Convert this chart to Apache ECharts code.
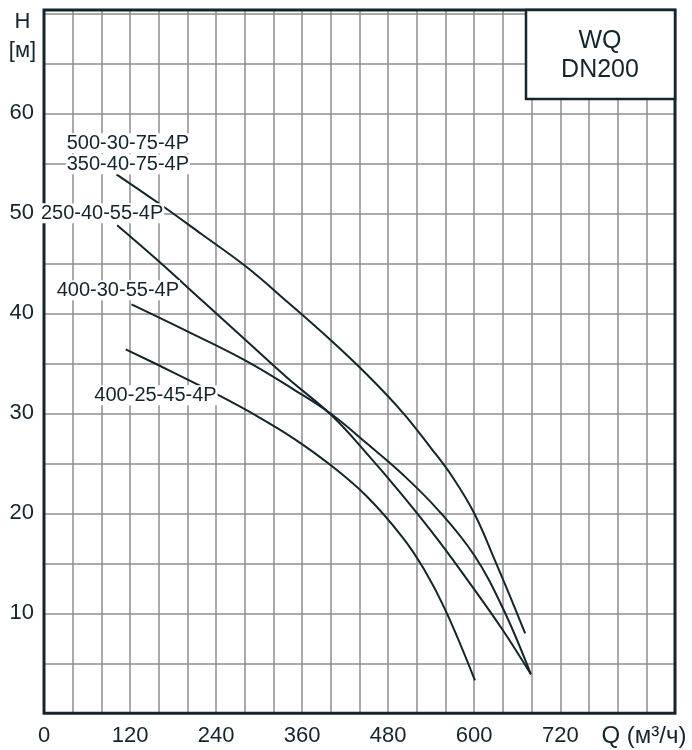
<!DOCTYPE html>
<html><head><meta charset="utf-8">
<script src="https://cdn.jsdelivr.net/npm/echarts@6/dist/echarts.min.js"></script>
<style>html,body{margin:0;padding:0;background:#fff}#c{width:692px;height:750px}</style>
</head><body><div id="c"></div>
<script>
// ---- data ----
const xTickLabels = [0, 120, 240, 360, 480, 600, 720];
const yTickLabels = [10, 20, 30, 40, 50, 60];
const seriesNames = ['500-30-75-4P / 350-40-75-4P', '250-40-55-4P', '400-30-55-4P', '400-25-45-4P'];
const curveTop = [[101,53.9],[160,51.0],[220,47.9],[283,44.6],[340,41.1],[400,37.3],[450,33.9],[500,30.1],[540,26.5],[570,23.6],[600,20.0],[630,15.1],[650,11.7],[671,8.0]];
const curve250 = [[102,48.8],[160,45.2],[220,41.3],[283,37.2],[340,33.5],[401,29.8],[450,26.0],[500,21.8],[550,17.3],[600,12.4],[640,8.3],[679,3.9]];
const curve400_30 = [[122,40.9],[200,38.2],[283,35.2],[350,32.3],[401,29.9],[450,27.0],[500,23.9],[550,20.3],[600,15.8],[640,10.5],[679,3.9]];
const curve400_25 = [[114,36.4],[180,34.1],[241,31.9],[300,29.6],[350,27.4],[400,24.8],[450,21.7],[500,17.6],[530,14.4],[560,10.3],[601,3.3]];
const curveLabels = ['500-30-75-4P', '350-40-75-4P', '250-40-55-4P', '400-30-55-4P', '400-25-45-4P'];
const boxLines = ['WQ', 'DN200'];
const axisTitleY = ['H', '[м]'];
const axisTitleX = 'Q (м³/ч)';

// ---- layout / style ----
const INK = '#13252d';
const GRIDC = '#8e8e8e';
const TICKFAMILY = '"Liberation Sans", Arial, sans-serif';
const TICKFONT = '22px ' + TICKFAMILY;
const LABFONT = '20px "Liberation Sans Narrow", "Arial Narrow", "Liberation Sans", sans-serif';
const G = {left: 44, top: 10, width: 631, height: 703.3};
// label anchors in data units (Q, H)
const labelAnchors = [[117, 57.0], [117, 54.9], [81, 50.0], [103, 42.3], [155.5, 31.8]];

const chart = echarts.init(document.getElementById('c'), null, {renderer: 'canvas'});
const lineSeries = [curveTop, curve250, curve400_30, curve400_25].map((d, i) => ({
  name: seriesNames[i], type: 'line', data: d, smooth: 0.4, symbol: 'none',
  lineStyle: {color: INK, width: 2}, z: 5
}));

chart.setOption({
  animation: false,
  grid: Object.assign({show: false, containLabel: false}, G),
  xAxis: {
    type: 'value', min: 0, max: 880, interval: 40,
    axisLine: {show: false}, axisTick: {show: false},
    axisLabel: {margin: 12, color: INK, fontSize: 22, fontFamily: TICKFAMILY,
      formatter: v => xTickLabels.includes(v) ? String(v) : '', showMaxLabel: false},
    splitLine: {show: true, showMinLine: false, showMaxLine: false, lineStyle: {color: GRIDC, width: 1.5}}
  },
  yAxis: {
    type: 'value', min: 0, max: 70.33, interval: 5,
    axisLine: {show: false}, axisTick: {show: false},
    axisLabel: {margin: 10, color: INK, fontSize: 22, fontFamily: TICKFAMILY,
      formatter: v => yTickLabels.includes(v) ? String(v) : ''},
    splitLine: {show: true, showMinLine: false, showMaxLine: false, lineStyle: {color: GRIDC, width: 1.5}}
  },
  series: lineSeries
});

const graphics = [];
// frame
graphics.push({type: 'rect', shape: {x: G.left, y: G.top, width: G.width, height: G.height},
  style: {fill: null, stroke: INK, lineWidth: 3}, z: 50, silent: true});
// title box
graphics.push({type: 'rect', shape: {x: 526, y: G.top, width: G.left + G.width - 526, height: 89},
  style: {fill: '#fff', stroke: INK, lineWidth: 2.5}, z: 60});
graphics.push({type: 'text', x: 600, y: 41, z: 61, style: {text: boxLines[0], font: '25px ' + TICKFAMILY, fill: INK, align: 'center', verticalAlign: 'middle'}});
graphics.push({type: 'text', x: 600, y: 70, z: 61, style: {text: boxLines[1], font: '25px ' + TICKFAMILY, fill: INK, align: 'center', verticalAlign: 'middle'}});
// axis titles
graphics.push({type: 'text', x: 22.5, y: 22, z: 61, style: {text: axisTitleY[0], font: TICKFONT, fill: INK, align: 'center', verticalAlign: 'middle'}});
graphics.push({type: 'text', x: 22.5, y: 51, z: 61, style: {text: axisTitleY[1], font: TICKFONT, fill: INK, align: 'center', verticalAlign: 'middle'}});
graphics.push({type: 'text', x: 644, y: 736, z: 61, style: {text: axisTitleX, font: '24px ' + TICKFAMILY, fill: INK, align: 'center', verticalAlign: 'middle'}});
// curve labels
curveLabels.forEach((t, i) => {
  const p = chart.convertToPixel({gridIndex: 0}, labelAnchors[i]);
  graphics.push({type: 'text', x: p[0], y: p[1], z: 70,
    style: {text: t, font: LABFONT, fill: INK, align: 'center', verticalAlign: 'middle',
      backgroundColor: '#fff', padding: [0, 1]}});
});
chart.setOption({graphic: graphics});
</script>
</body></html>
